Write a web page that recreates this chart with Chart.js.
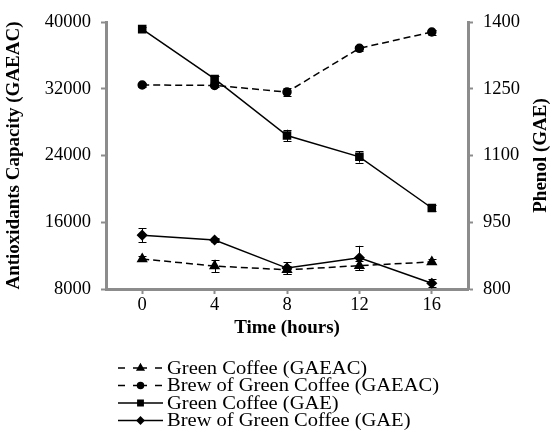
<!DOCTYPE html>
<html><head><meta charset="utf-8">
<script src="https://cdn.jsdelivr.net/npm/chart.js@4"></script>
<style>html,body{margin:0;padding:0;background:#fff}#wrap{width:553px;height:439px;position:relative}</style>
</head><body><div id="wrap"><canvas id="c" width="553" height="439"></canvas></div>
<script>
// ─── DATA ────────────────────────────────────────────────────
const hours=[0,4,8,12,16];
const gcGAEAC=[11600,10750,10300,10800,11250];      // Green Coffee (GAEAC), left axis
const gcGAEACErr=[300,750,500,500,300];
const brewGAEAC=[32450,32400,31600,36850,38800];    // Brew of Green Coffee (GAEAC), left axis
const brewGAEACErr=[250,250,450,300,300];
const gcGAE=[1384,1272,1145,1097,982];              // Green Coffee (GAE), right axis
const gcGAEErr=[4,6,13,13,6];
const brewGAE=[921,910,847,870,813];                // Brew of Green Coffee (GAE), right axis
const brewGAEErr=[16,4,13,27,9];
const leftTicks=[8000,16000,24000,32000,40000];
const rightTicks=[800,950,1100,1250,1400];
const xTicks=[0,4,8,12,16];

const FONT='"Liberation Serif","Times New Roman",serif';
const AX='#8c8c8c';
const pts=(ys)=>hours.map((h,i)=>({x:h,y:ys[i]}));

const series=[
  {label:'Green Coffee (GAEAC)',data:gcGAEAC,err:gcGAEACErr,axis:'y',dash:[7,4],ps:'triangle',r:5},
  {label:'Brew of Green Coffee (GAEAC)',data:brewGAEAC,err:brewGAEACErr,axis:'y',dash:[7,4],ps:'circle',r:4},
  {label:'Green Coffee (GAE)',data:gcGAE,err:gcGAEErr,axis:'y1',dash:[],ps:'rect',r:5},
  {label:'Brew of Green Coffee (GAE)',data:brewGAE,err:brewGAEErr,axis:'y1',dash:[],ps:'rectRot',r:4.5}
];

// error bars + titles + legend
const extras={id:'extras',
  afterDatasetsDraw(chart){
    const ctx=chart.ctx,xs=chart.scales.x;
    ctx.save();ctx.strokeStyle='#000';ctx.lineWidth=1;ctx.setLineDash([]);
    series.forEach(s=>{const ys=chart.scales[s.axis];
      s.data.forEach((v,i)=>{const e=s.err[i];if(!e)return;
        const px=Math.round(xs.getPixelForValue(hours[i]))+0.5,t=ys.getPixelForValue(v+e),b=ys.getPixelForValue(v-e);
        ctx.beginPath();ctx.moveTo(px,t);ctx.lineTo(px,b);
        ctx.moveTo(px-4,Math.round(t)+0.5);ctx.lineTo(px+4,Math.round(t)+0.5);
        ctx.moveTo(px-4,Math.round(b)+0.5);ctx.lineTo(px+4,Math.round(b)+0.5);ctx.stroke()})});
    ctx.restore()},
  afterDraw(chart){
    const ctx=chart.ctx,a=chart.chartArea,cy=(a.top+a.bottom)/2;
    ctx.save();ctx.fillStyle='#000';ctx.textAlign='center';ctx.textBaseline='middle';
    ctx.font='bold 19px '+FONT;
    ctx.fillText('Time (hours)',(a.left+a.right)/2,328);
    ctx.save();ctx.translate(14,cy);ctx.rotate(-Math.PI/2);ctx.fillText('Antioxidants Capacity (GAEAC)',0,0);ctx.restore();
    ctx.save();ctx.translate(541,cy);ctx.rotate(-Math.PI/2);ctx.fillText('Phenol (GAE)',0,0);ctx.restore();
    ctx.restore();
    // legend
    ctx.save();ctx.textBaseline='middle';ctx.textAlign='left';
    series.forEach((s,i)=>{const y=368+i*17.5;
      ctx.strokeStyle='#000';ctx.fillStyle='#000';ctx.lineWidth=1.5;
      if(s.dash.length){ctx.beginPath();ctx.moveTo(118,y);ctx.lineTo(125,y);ctx.moveTo(133,y);ctx.lineTo(147,y);ctx.moveTo(155,y);ctx.lineTo(162,y);ctx.stroke()}
      else{ctx.beginPath();ctx.moveTo(118,y);ctx.lineTo(163,y);ctx.stroke()}
      Chart.helpers.drawPoint(ctx,{pointStyle:s.ps,radius:s.r*0.75,rotation:0,borderWidth:1},140.5,y);
      ctx.save();ctx.translate(167,y+1);ctx.scale(1.08,1);ctx.font='19px '+FONT;ctx.fillStyle='#000';ctx.fillText(s.label,0,0);ctx.restore()});
    ctx.restore()}
};

const tickFont={family:FONT,size:18.5};
new Chart(document.getElementById('c'),{
  type:'line',
  data:{datasets:series.map(s=>({label:s.label,data:pts(s.data),yAxisID:s.axis,borderColor:'#000',backgroundColor:'#000',
    borderWidth:1.5,borderDash:s.dash,pointStyle:s.ps,pointRadius:s.r,pointBackgroundColor:'#000',pointBorderColor:'#000',tension:0}))},
  options:{responsive:false,animation:false,events:[],
    layout:{padding:{top:22,left:0,right:0,bottom:0}},
    plugins:{legend:{display:false},tooltip:{enabled:false}},
    scales:{
      x:{type:'linear',min:-2,max:18,
        afterBuildTicks:sc=>{sc.ticks=xTicks.map(v=>({value:v}))},
        afterFit:sc=>{sc.height=150},
        grid:{drawOnChartArea:false,tickLength:5,color:AX,tickWidth:2},
        border:{color:AX,width:3},
        ticks:{color:'#000',font:tickFont,padding:0,maxRotation:0}},
      y:{position:'left',min:8000,max:40000,
        afterBuildTicks:sc=>{sc.ticks=leftTicks.map(v=>({value:v}))},
        afterFit:sc=>{sc.width=106},
        grid:{drawOnChartArea:false,tickLength:5,color:AX,tickWidth:2},
        border:{color:AX,width:3},
        ticks:{color:'#000',font:tickFont,padding:10,callback:v=>String(v)}},
      y1:{position:'right',min:800,max:1400,
        afterBuildTicks:sc=>{sc.ticks=rightTicks.map(v=>({value:v}))},
        afterFit:sc=>{sc.width=85},
        grid:{drawOnChartArea:false,tickLength:5,color:AX,tickWidth:2},
        border:{color:AX,width:3},
        ticks:{color:'#000',font:tickFont,padding:10,callback:v=>String(v)}}
    }},
  plugins:[extras]
});
</script></body></html>
